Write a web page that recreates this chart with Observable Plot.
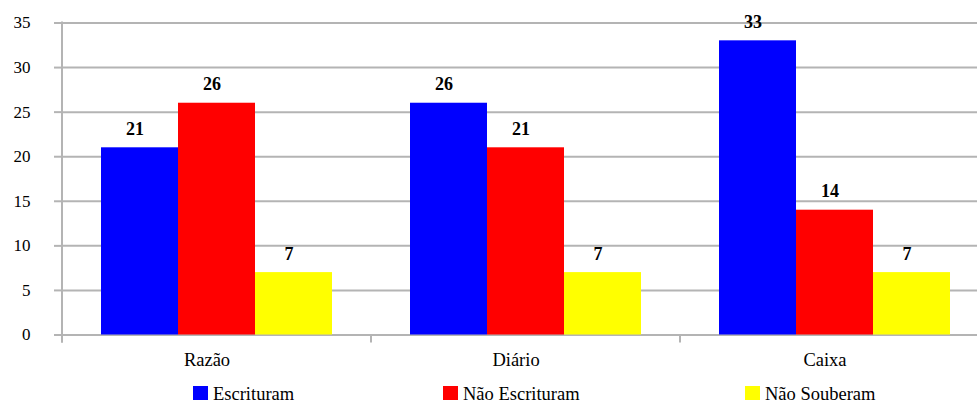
<!DOCTYPE html>
<html>
<head>
<meta charset="utf-8">
<script src="https://cdn.jsdelivr.net/npm/d3@7"></script>
<script src="https://cdn.jsdelivr.net/npm/@observablehq/plot@0.6"></script>
<style>
  html, body { margin: 0; padding: 0; background: #fff; overflow: hidden; }
  #wrap { width: 977px; font-family: "Liberation Serif", "Tinos", "Times New Roman", "DejaVu Serif", serif; }
  #legend {
    display: grid;
    grid-template-columns: 250px 302px auto;
    padding-left: 193px;
    margin-top: 11px;
    font-size: 18.5px;
    line-height: 14px;
    color: #000;
  }
  #legend .item { display: flex; align-items: flex-end; white-space: nowrap; }
  #legend .sw { width: 15px; height: 14px; margin-right: 5px; flex: none; }
  #legend .lbl { position: relative; top: 1px; }
</style>
</head>
<body>
<div id="wrap"></div>
<script>
// Livros escriturados: respostas por livro
const categories = ["Razão", "Diário", "Caixa"];
const series = ["Escrituram", "Não Escrituram", "Não Souberam"];
const escrituram = [21, 26, 33];
const naoEscrituram = [26, 21, 14];
const naoSouberam = [7, 7, 7];
const seriesColors = ["#0000ff", "#ff0000", "#ffff00"];
const yTicks = [0, 5, 10, 15, 20, 25, 30, 35];

const values = [escrituram, naoEscrituram, naoSouberam];
const rows = [];
categories.forEach((livro, i) => {
  series.forEach((s, j) => rows.push({livro, serie: s, valor: values[j][i]}));
});

const gray = "#b4b4b4";
const font = "\"Liberation Serif\", Tinos, \"Times New Roman\", \"DejaVu Serif\", serif";

const chart = Plot.plot({
  width: 977,
  height: 375,
  marginLeft: 62,
  marginRight: -12,
  marginTop: 22.5,
  marginBottom: 40.5,
  style: {fontFamily: font, fontSize: "18.5px", color: "#000", background: "#fff"},
  fx: {domain: categories, padding: 0, label: null},
  x: {domain: series, paddingInner: 0, paddingOuter: 0.5, axis: null},
  y: {domain: [0, 35], label: null},
  color: {domain: series, range: seriesColors},
  marks: [
    Plot.gridY(yTicks, {stroke: gray, strokeOpacity: 1, strokeWidth: 2}),
    Plot.axisY(yTicks, {
      tickSize: 8, tickPadding: 24, stroke: gray, strokeWidth: 2, strokeOpacity: 1,
      fill: "#000", fontSize: 17, label: null
    }),
    Plot.axisFx({anchor: "bottom", tickSize: 0, tickPadding: 17.4, dx: -10, fontSize: 18.5, label: null}),
    Plot.barY(rows, {fx: "livro", x: "serie", y: "valor", fill: "serie"}),
    Plot.text(rows, {
      fx: "livro", x: "serie", y: "valor", text: "valor",
      dy: -13, dx: -5, lineAnchor: "bottom",
      fontWeight: "bold", fontSize: 18, fill: "#000"
    })
  ]
});

// Eixo vertical e marcas de separação entre os livros
const ys = chart.scale("y");
const fxs = chart.scale("fx");
const yScale = d3.scaleLinear(ys.domain, ys.range);
const fxScale = d3.scaleBand(fxs.domain, fxs.range).padding(0);
const y0 = yScale(0), yTop = yScale(35);
const svg = d3.select(chart);
svg.style("font-family", font);
const g = svg.append("g").attr("stroke", gray).attr("stroke-width", 2);
const left = fxScale(categories[0]);
g.append("line").attr("x1", left).attr("x2", left).attr("y1", yTop - 1).attr("y2", y0 + 8);
categories.forEach(c => {
  const x = fxScale(c);
  g.append("line").attr("x1", x).attr("x2", x).attr("y1", y0).attr("y2", y0 + 8);
});

const wrap = document.getElementById("wrap");
wrap.appendChild(chart);

const legend = document.createElement("div");
legend.id = "legend";
series.forEach((s, j) => {
  const item = document.createElement("div");
  item.className = "item";
  const sw = document.createElement("span");
  sw.className = "sw";
  sw.style.background = seriesColors[j];
  const lbl = document.createElement("span");
  lbl.className = "lbl";
  lbl.textContent = s;
  item.append(sw, lbl);
  legend.appendChild(item);
});
wrap.appendChild(legend);
</script>
</body>
</html>
